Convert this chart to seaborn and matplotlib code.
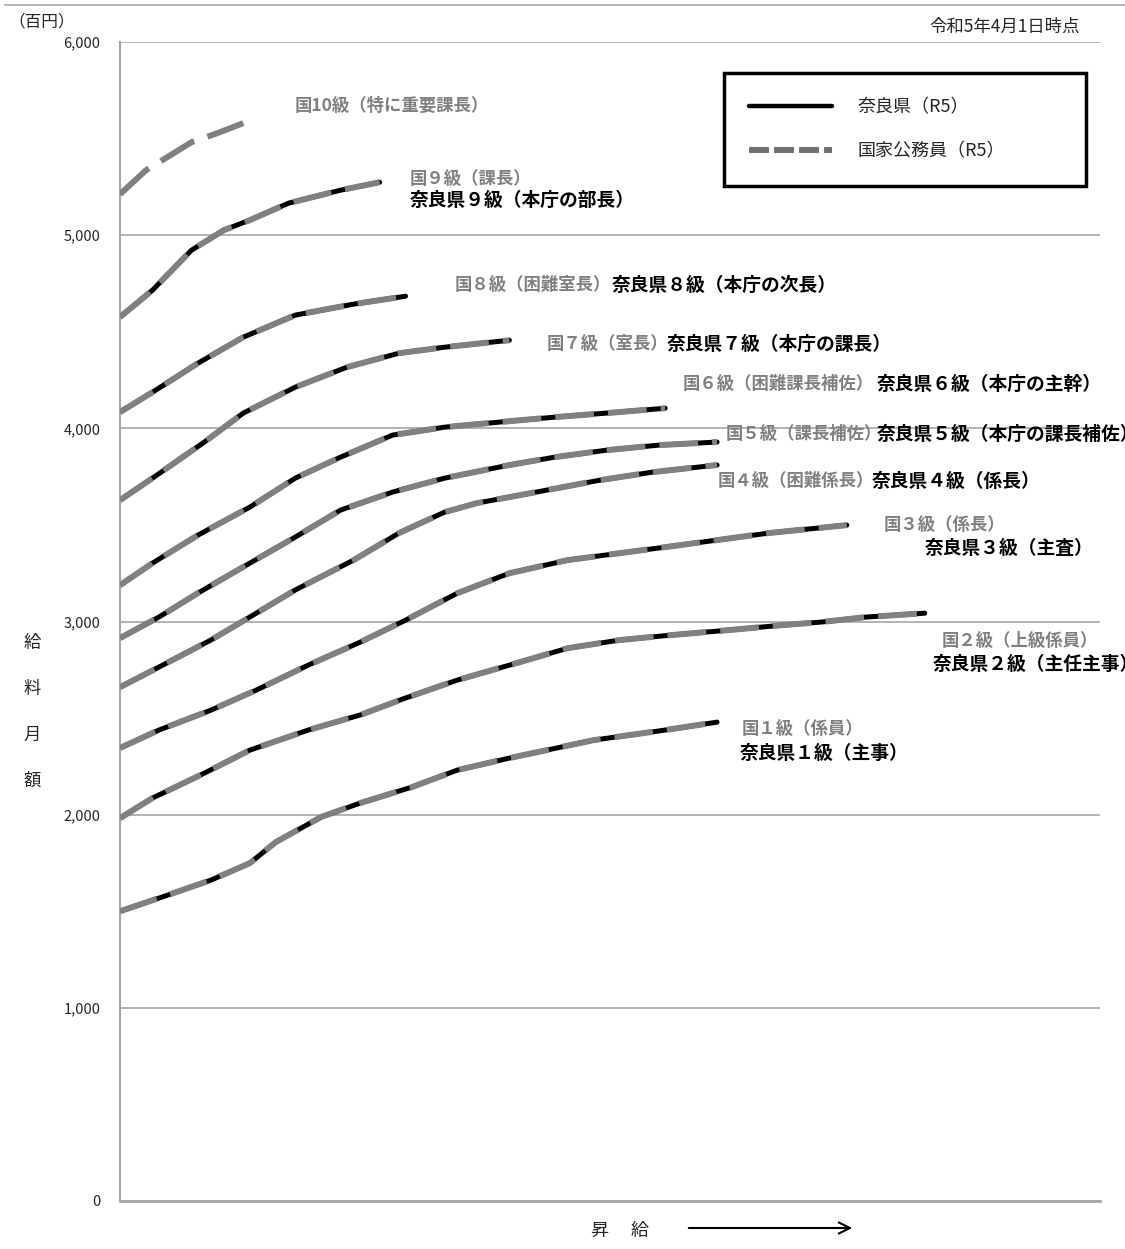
import matplotlib
matplotlib.use("Agg")
import matplotlib.pyplot as plt
import seaborn as sns
from matplotlib.lines import Line2D

# 号俸 (step number) and 給料月額 (百円), one pair per grade.
# The Nara and national curves sit on top of each other, so grades 1-9 share them.
g1_step = [0, 6, 14, 20, 24, 31, 37, 45, 52, 60, 73, 84, 92]
g1_pay = [1500, 1568, 1661, 1749, 1858, 1988, 2060, 2143, 2231, 2293, 2386, 2438, 2479]

g2_step = [0, 5, 13, 20, 29, 37, 44, 52, 60, 69, 77, 85, 94, 102, 108, 115, 124]
g2_pay = [1982, 2086, 2215, 2334, 2438, 2516, 2604, 2697, 2774, 2862, 2904, 2930, 2956,
          2981, 2997, 3023, 3043]

g3_step = [0, 6, 14, 21, 29, 37, 44, 52, 60, 69, 84, 100, 112]
g3_pay = [2345, 2438, 2541, 2645, 2774, 2893, 3007, 3147, 3250, 3318, 3385, 3458, 3499]

g4_step = [0, 6, 14, 20, 27, 36, 43, 50, 55, 60, 74, 82, 92]
g4_pay = [2660, 2764, 2904, 3023, 3163, 3318, 3458, 3566, 3613, 3644, 3732, 3773, 3810]

g5_step = [0, 6, 12, 20, 27, 34, 42, 50, 60, 67, 75, 83, 92]
g5_pay = [2914, 3023, 3147, 3302, 3437, 3577, 3670, 3742, 3810, 3851, 3887, 3913, 3929]

g6_step = [0, 5, 12, 20, 27, 34, 42, 50, 60, 67, 75, 84]
g6_pay = [3188, 3302, 3447, 3592, 3742, 3851, 3965, 4006, 4037, 4058, 4079, 4104]

g7_step = [0, 5, 13, 19, 27, 35, 43, 50, 60]
g7_pay = [3628, 3742, 3929, 4079, 4213, 4317, 4389, 4420, 4456]

g8_step = [0, 5, 12, 19, 27, 36, 44]
g8_pay = [4084, 4187, 4337, 4472, 4586, 4643, 4684]

g9_step = [0, 5, 11, 16, 20, 26, 34, 40]
g9_pay = [4576, 4715, 4922, 5026, 5078, 5166, 5233, 5274]

g10_step = [0, 4, 11, 15, 19]
g10_pay = [5212, 5336, 5481, 5528, 5580]

nara_lines = [(g1_step, g1_pay), (g2_step, g2_pay), (g3_step, g3_pay), (g4_step, g4_pay),
              (g5_step, g5_pay), (g6_step, g6_pay), (g7_step, g7_pay), (g8_step, g8_pay),
              (g9_step, g9_pay)]
national_lines = nara_lines + [(g10_step, g10_pay)]

y_ticks = [0, 1000, 2000, 3000, 4000, 5000, 6000]

# grade labels: (text, x px, y px)
national_labels = [
    ("国10級（特に重要課長）", 295, 106),
    ("国９級（課長）", 410, 180),
    ("国８級（困難室長）", 455, 285),
    ("国７級（室長）", 547, 344),
    ("国６級（困難課長補佐）", 683, 384),
    ("国５級（課長補佐）", 726, 434),
    ("国４級（困難係長）", 718, 481),
    ("国３級（係長）", 884, 526),
    ("国２級（上級係員）", 942, 641),
    ("国１級（係員）", 742, 730),
]
nara_labels = [
    ("奈良県９級（本庁の部長）", 410, 200),
    ("奈良県８級（本庁の次長）", 612, 285),
    ("奈良県７級（本庁の課長）", 667, 344),
    ("奈良県６級（本庁の主幹）", 877, 384),
    ("奈良県５級（本庁の課長補佐）", 877, 434),
    ("奈良県４級（係長）", 872, 481),
    ("奈良県３級（主査）", 925, 548),
    ("奈良県２級（主任主事）", 933, 664),
    ("奈良県１級（主事）", 740, 753),
]

W, H = 1125, 1249
GRAY = "#808080"
GRID = "#a6a6a6"

sns.set_style("white")
plt.rcParams['font.family'] = ['Noto Sans CJK JP', 'DejaVu Sans']

fig = plt.figure(figsize=(W / 100, H / 100), dpi=100)
ax = fig.add_axes([120 / W, 1 - 1201 / H, 980 / W, 1159 / H])

for steps, pay in nara_lines:
    sns.lineplot(x=steps, y=pay, ax=ax, color="black", lw=3.6, zorder=2)

for steps, pay in national_lines:
    sns.lineplot(x=steps, y=pay, ax=ax, color=GRAY, lw=4.3,
                 linestyle=(0, (6.5, 2.35)), dash_capstyle="butt", zorder=3)

ax.set_xlim(0, 151)
ax.set_ylim(0, 6000)
ax.set_xticks([])
ax.set_yticks(y_ticks)
ax.set_yticklabels([f"{v:,}" for v in y_ticks])
ax.tick_params(axis="y", length=0, pad=14, labelsize=10.5)
ax.yaxis.grid(True, color=GRID, lw=1.2)
ax.set_xlabel("")
ax.set_ylabel("")
for side in ["top", "right"]:
    ax.spines[side].set_visible(False)
ax.spines["left"].set_color(GRID)
ax.spines["left"].set_linewidth(1.5)
ax.spines["bottom"].set_color(GRID)
ax.spines["bottom"].set_linewidth(2)

# legend
handles = [
    Line2D([], [], color="black", lw=3.2),
    Line2D([], [], color="#707070", lw=4.3, linestyle=(0, (3.35, 0.84)), dash_capstyle="butt"),
]
leg = ax.legend(handles, ["奈良県（R5）", "国家公務員（R5）"],
                loc="upper left", bbox_to_anchor=(0.616, 0.883, 0.37, 0.09),
                mode="expand", borderaxespad=0, fontsize=13, handlelength=4.6,
                handletextpad=1.4, labelspacing=1.45, borderpad=1.4,
                fancybox=False, framealpha=1)
leg.get_frame().set_edgecolor("black")
leg.get_frame().set_linewidth(2.5)


def fig_text(px, py, s, **kw):
    fig.text(px / W, 1 - py / H, s, va="center", **kw)


for s, px, py in national_labels:
    fig_text(px, py, s, color=GRAY, fontsize=12.5, fontweight="bold")
for s, px, py in nara_labels:
    fig_text(px, py, s, color="black", fontsize=13.5, fontweight="bold")

fig_text(8, 22, "（百円）", fontsize=12)
fig_text(1080, 27, "令和5年4月1日時点", fontsize=12.5, ha="right")
fig.text(32 / W, 1 - 712 / H, "給\n料\n月\n額", fontsize=12.5, ha="center",
         va="center", linespacing=3.0)
fig_text(620, 1231, "昇　 給", fontsize=13, ha="center")
ax.annotate("", xy=(855 / W, 1 - 1228 / H), xytext=(686 / W, 1 - 1228 / H),
            xycoords="figure fraction", textcoords="figure fraction",
            arrowprops=dict(arrowstyle="->", lw=1.5, color="black", mutation_scale=20))

fig.add_artist(Line2D([5 / W, 1], [1 - 5 / H, 1 - 5 / H], color=GRID, lw=1.2))

fig.savefig("out.png", dpi=100)
